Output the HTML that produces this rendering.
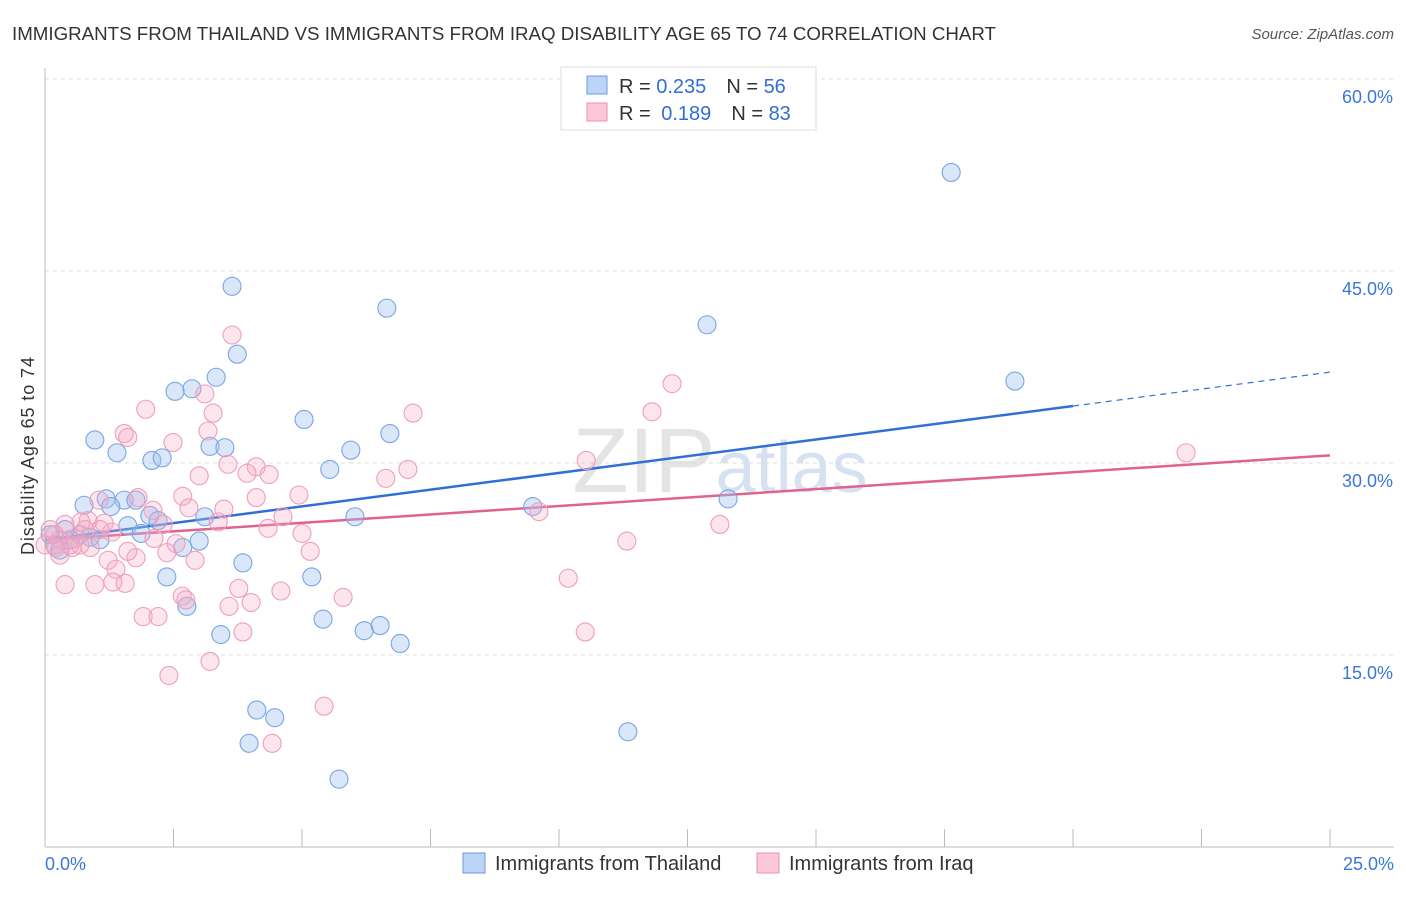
<!DOCTYPE html>
<html><head><meta charset="utf-8"><style>
body{margin:0;background:#fff;font-family:"Liberation Sans",sans-serif;}
svg text{font-family:"Liberation Sans",sans-serif;}
</style></head><body>
<svg id="chart" width="1406" height="892">
<text x="12" y="40" font-size="18" fill="#333" textLength="984" lengthAdjust="spacingAndGlyphs">IMMIGRANTS FROM THAILAND VS IMMIGRANTS FROM IRAQ DISABILITY AGE 65 TO 74 CORRELATION CHART</text>
<text x="1394" y="39" font-size="15" fill="#555" font-style="italic" text-anchor="end">Source: ZipAtlas.com</text>
<text x="720" y="492" font-size="92" fill="#e4e4e4" text-anchor="middle" font-family="Liberation Serif">ZIP<tspan fill="#d6e2f2" font-family="Liberation Sans" font-size="72">atlas</tspan></text>
<text transform="translate(34,456) rotate(-90)" font-size="18" fill="#333" text-anchor="middle" textLength="198">Disability Age 65 to 74</text>
<g id="grid"></g><g id="axes"></g><g id="lines"></g><g id="pts"></g>
<g>
<rect x="561" y="67" width="255" height="63" fill="#fff" stroke="#ddd"/>
<rect x="587" y="76" width="20" height="18" fill="#bcd4f6" stroke="#6a9ae0"/>
<rect x="587" y="103" width="20" height="18" fill="#fbc8d8" stroke="#e890ae"/>
<text x="619" y="93" font-size="20" fill="#333">R = <tspan fill="#2f6fd6">0.235</tspan><tspan dx="20">N = </tspan><tspan fill="#2f6fd6">56</tspan></text>
<text x="619" y="120" font-size="20" fill="#333">R = <tspan dx="5" fill="#2f6fd6">0.189</tspan><tspan dx="20">N = </tspan><tspan fill="#2f6fd6">83</tspan></text>
</g>
<g>
<rect x="463" y="853" width="22" height="20" fill="#bcd4f6" stroke="#6a9ae0"/>
<text x="495" y="870" font-size="20" fill="#333">Immigrants from Thailand</text>
<rect x="757" y="853" width="22" height="20" fill="#fbc8d8" stroke="#e890ae"/>
<text x="789" y="870" font-size="20" fill="#333">Immigrants from Iraq</text>
</g>
</svg>
<script>
const xTicks=[0,2.5,5,7.5,10,12.5,15,17.5,20,22.5,25];
const yTicks=[15,30,45,60];
const thaiX=[17.63,3.64,6.65,12.88,3.74,18.87,3.33,2.86,2.53,5.04,6.71,0.97,3.21,3.50,5.95,1.40,2.08,2.28,5.54,0.76,1.19,1.54,1.28,1.77,2.04,2.20,1.61,1.87,3.11,6.03,9.49,13.29,2.68,3.00,3.85,2.37,5.19,2.76,3.42,5.41,6.21,6.52,6.91,4.12,4.47,3.97,11.34,5.72,0.10,0.19,0.29,0.49,0.68,0.39,0.88,1.07];
const thaiY=[52.7,43.8,42.1,40.8,38.5,36.4,36.7,35.8,35.6,33.4,32.3,31.8,31.3,31.2,31.0,30.8,30.2,30.4,29.5,26.7,27.2,27.1,26.6,27.1,25.9,25.5,25.1,24.5,25.8,25.8,26.6,27.2,23.4,23.9,22.2,21.1,21.1,18.8,16.6,17.8,16.9,17.3,15.9,10.7,10.1,8.1,9.0,5.3,24.4,23.6,23.2,24.0,24.4,24.8,24.2,24.0];
const iraqX=[3.64,12.20,1.96,3.11,7.16,11.81,3.27,1.54,3.17,1.61,2.49,10.53,22.20,3.00,3.56,4.11,3.93,4.36,7.06,6.63,2.68,1.81,1.05,4.94,4.11,2.80,3.48,2.10,9.61,0.84,0.70,1.15,3.37,2.30,4.63,4.34,13.13,5.00,1.30,2.55,2.12,1.61,5.16,2.37,2.92,1.23,1.77,1.38,11.32,10.18,0.39,0.97,1.56,1.32,3.77,4.59,2.67,2.74,5.80,4.01,3.58,1.91,2.20,3.85,10.51,3.21,2.41,5.43,4.42,0.29,0.49,0.19,0.39,0.58,0.78,1.07,0.29,0.88,0.10,0.0,0.68,0.53,0.21];
const iraqY=[40.0,36.2,34.2,35.4,33.9,34.0,33.9,32.3,32.5,32.0,31.6,30.2,30.8,29.0,29.9,29.7,29.2,29.1,29.5,28.8,27.4,27.3,27.1,27.5,27.3,26.5,26.4,26.3,26.2,25.5,25.4,25.3,25.4,25.2,25.8,24.9,25.2,24.5,24.6,23.7,24.1,23.1,23.1,23.0,22.4,22.4,22.6,21.7,23.9,21.0,20.5,20.5,20.6,20.7,20.2,20.0,19.6,19.3,19.5,19.1,18.8,18.0,18.0,16.8,16.8,14.5,13.4,11.0,8.1,24.0,23.6,24.4,25.2,24.1,24.8,24.8,22.8,23.4,24.8,23.6,23.6,23.4,23.4];
const thaiTrend=[24.0,34.45,37.1]; // at x=0, 20, 25
const iraqTrend=[24.0,30.6]; // at x=0, 25
const NS="http://www.w3.org/2000/svg";
const sx=v=>45+v*51.4, sy=v=>847-v*12.8;
function mk(tag,attrs,parent){const e=document.createElementNS(NS,tag);for(const k in attrs)e.setAttribute(k,attrs[k]);document.getElementById(parent).appendChild(e);return e;}
yTicks.forEach(t=>{
 const l=mk('line',{x1:45,x2:1394,y1:sy(t),y2:sy(t),stroke:'#ddd','stroke-dasharray':'4,4'},'grid');
 
 
 const tx=mk('text',{x:1393,y:sy(t)+24,'font-size':18,fill:'#3a78d8','text-anchor':'end'},'grid');
 tx.textContent=t.toFixed(1)+'%';
 
 
});
mk('line',{x1:45,x2:45,y1:68,y2:847,stroke:'#bbb'},'axes');
mk('line',{x1:45,x2:1394,y1:847,y2:847,stroke:'#bbb'},'axes');
xTicks.forEach(t=>{
 const l=mk('line',{x1:sx(t),x2:sx(t),y1:829,y2:847,stroke:'#bbb'},'axes');
 
 
});
[[0,'start',45],[25,'end',1394]].forEach(([v,a,x])=>{
 const tx=mk('text',{x:x,y:870,'font-size':18,fill:'#3a78d8','text-anchor':a},'axes');
 tx.textContent=v.toFixed(1)+'%';
 
 
});
let bl=mk('line',{x1:sx(0),y1:sy(thaiTrend[0]),x2:sx(20),y2:sy(thaiTrend[1]),stroke:'#2f6fd6','stroke-width':2.5},'lines');


let bd=mk('line',{x1:sx(20),y1:sy(thaiTrend[1]),x2:sx(25),y2:sy(thaiTrend[2]),stroke:'#2f6fd6','stroke-width':1.2,'stroke-dasharray':'6,5'},'lines');


let pl=mk('line',{x1:sx(0),y1:sy(iraqTrend[0]),x2:sx(25),y2:sy(iraqTrend[1]),stroke:'#e0628e','stroke-width':2.5},'lines');


thaiX.forEach((x,i)=>{
 const c=mk('circle',{cx:sx(x),cy:sy(thaiY[i]),r:9,fill:'rgba(160,194,240,0.4)',stroke:'#7aa5e4','stroke-width':1.1},'pts');
 
 
});
iraqX.forEach((x,i)=>{
 const c=mk('circle',{cx:sx(x),cy:sy(iraqY[i]),r:9,fill:'rgba(245,170,196,0.3)',stroke:'#ee9fbb','stroke-width':1.1},'pts');
 
 
});
</script>
</body></html>
